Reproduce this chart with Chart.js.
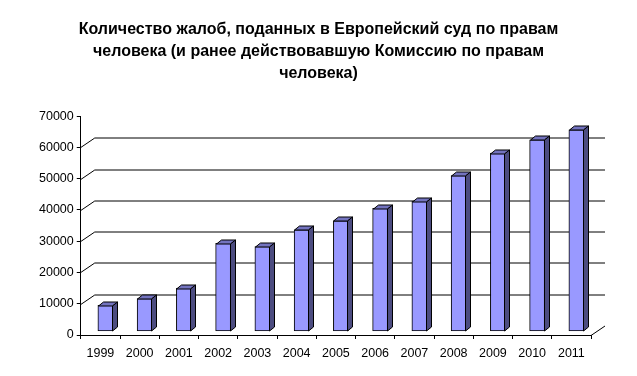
<!DOCTYPE html>
<html>
<head>
<meta charset="utf-8">
<script src="https://cdn.jsdelivr.net/npm/chart.js@4/dist/chart.umd.min.js"></script>
<style>
  html, body { margin: 0; padding: 0; background: #fff; }
  #wrap { width: 637px; height: 376px; }
</style>
</head>
<body>
<div id="wrap"><canvas id="complaintsChart" width="637" height="376"></canvas></div>
<script>
// данные: годы и количество жалоб
const years = ["1999", "2000", "2001", "2002", "2003", "2004", "2005", "2006", "2007", "2008", "2009", "2010", "2011"];
const complaints = [8400, 10500, 13800, 28200, 27200, 32500, 35400, 39400, 41700, 49900, 57100, 61300, 64500];
const titleLines = [
    "Количество жалоб, поданных в Европейский суд по правам",
    "человека (и ранее действовавшую Комиссию по правам",
    "человека)"
];

// глубина "3D" стенок и столбиков
const wallDX = 14, wallDY = -9.5;
const barShiftX = 5, barShiftY = -3.5;
const barDX = 5, barDY = -4;

const frontColor = "#9999FF";
const topColor = "#7373BF";
const sideColor = "#4C4C80";
const fontFamily = "Liberation Sans, Arial, sans-serif";

function fillPoly(ctx, pts, color) {
    ctx.beginPath();
    ctx.moveTo(pts[0][0], pts[0][1]);
    for (let i = 1; i < pts.length; i++) ctx.lineTo(pts[i][0], pts[i][1]);
    ctx.closePath();
    ctx.fillStyle = color;
    ctx.fill();
    ctx.stroke();
}

// задняя стенка, линии сетки и объём столбиков
const walls3d = {
    id: "walls3d",
    afterLayout(chart) {
        // заголовок по центру всего холста
        const tb = chart.titleBlock;
        if (tb) { tb.left = 0; tb.right = chart.width; tb.width = chart.width; }
    },
    beforeDatasetsDraw(chart) {
        const { ctx, chartArea, scales: { y } } = chart;
        ctx.save();
        ctx.strokeStyle = "#000";
        ctx.lineWidth = 1;
        y.ticks.forEach(function (t) {
            if (t.value === 0 || t.value === y.max) return;
            const py = Math.round(y.getPixelForValue(t.value)) + 0.5;
            ctx.beginPath();
            ctx.moveTo(chartArea.left, py);
            ctx.lineTo(chartArea.left + wallDX, py + wallDY);
            ctx.lineTo(chartArea.right + wallDX, py + wallDY);
            ctx.stroke();
        });
        const p0 = Math.round(y.getPixelForValue(0)) + 0.5;
        ctx.beginPath();
        ctx.moveTo(chartArea.right, p0);
        ctx.lineTo(chartArea.right + wallDX, p0 + wallDY);
        ctx.stroke();
        ctx.restore();

        ctx.save();
        ctx.translate(barShiftX, barShiftY);
    },
    afterDatasetsDraw(chart) {
        const ctx = chart.ctx;
        ctx.strokeStyle = "#000";
        ctx.lineWidth = 1;
        chart.getDatasetMeta(0).data.forEach(function (bar) {
            const l = Math.round(bar.x - bar.width / 2) + 0.5;
            const r = Math.round(bar.x + bar.width / 2) - 0.5;
            const t = Math.round(bar.y) + 0.5;
            const b = Math.round(bar.base) - 0.5;
            fillPoly(ctx, [[l, t], [l + barDX, t + barDY], [r + barDX, t + barDY], [r, t]], topColor);
            fillPoly(ctx, [[r, t], [r + barDX, t + barDY], [r + barDX, b + barDY], [r, b]], sideColor);
        });
        ctx.restore();
    }
};

const ctx = document.getElementById("complaintsChart").getContext("2d");

new Chart(ctx, {
    type: "bar",
    data: {
        labels: years,
        datasets: [{
            data: complaints,
            backgroundColor: frontColor,
            borderColor: "#000",
            borderWidth: 1,
            borderSkipped: false,
            barThickness: 15
        }]
    },
    options: {
        responsive: false,
        animation: false,
        events: [],
        layout: { padding: { left: 36, right: 46, top: 0, bottom: 8 } },
        plugins: {
            legend: { display: false },
            tooltip: { enabled: false },
            title: {
                display: true,
                text: titleLines,
                color: "#000",
                font: { family: fontFamily, size: 16, weight: "bold", lineHeight: 1.4 },
                padding: { top: 18, bottom: 31 }
            }
        },
        scales: {
            x: {
                grid: { drawOnChartArea: false, tickLength: 4, color: "#000", offset: true },
                border: { color: "#000" },
                ticks: {
                    color: "#000",
                    padding: 7,
                    maxRotation: 0,
                    font: { family: fontFamily, size: 12.5 }
                }
            },
            y: {
                min: 0,
                max: 70000,
                grid: { drawOnChartArea: false, tickLength: 4, color: "#000" },
                border: { color: "#000" },
                ticks: {
                    stepSize: 10000,
                    color: "#000",
                    padding: 3,
                    font: { family: fontFamily, size: 12.5 },
                    callback: function (value) { return String(value); }
                }
            }
        }
    },
    plugins: [walls3d]
});
</script>
</body>
</html>
